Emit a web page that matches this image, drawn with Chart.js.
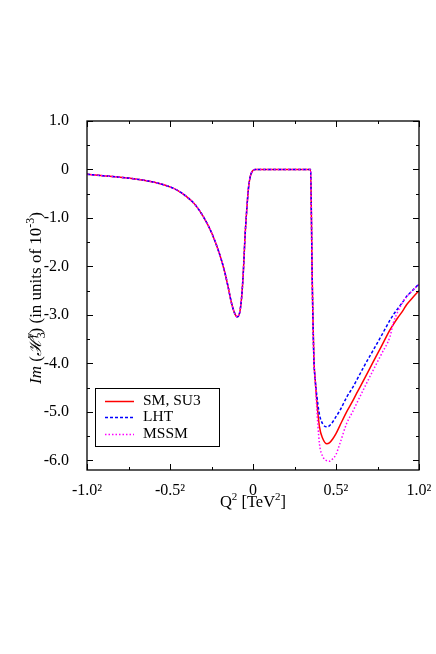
<!DOCTYPE html>
<html>
<head>
<meta charset="utf-8">
<script src="https://cdn.jsdelivr.net/npm/chart.js@4.4.1/dist/chart.umd.min.js"></script>
<style>
  html, body { margin: 0; padding: 0; background: #fff; }
  canvas { display: block; }
</style>
</head>
<body>
<canvas id="chart" width="436" height="654"></canvas>
<script>
// -------------------- DATA --------------------
// x is plotted on a signed sqrt(|Q^2|) axis, ticks read as -1.0^2 ... 1.0^2
const xShared = [-1.0, -0.9, -0.8, -0.7, -0.6, -0.5, -0.45, -0.4, -0.35, -0.3, -0.25, -0.2,
  -0.17, -0.15, -0.13, -0.11, -0.095, -0.08, -0.068, -0.058, -0.048, -0.038, -0.028,
  -0.018, -0.008, 0.005, 0.012, 0.1, 0.2, 0.3, 0.347, 0.352, 0.355, 0.36, 0.367, 0.375];
const yShared = [-0.10, -0.13, -0.16, -0.20, -0.26, -0.36, -0.44, -0.56, -0.72, -0.97, -1.30, -1.76,
  -2.12, -2.42, -2.75, -2.97, -3.04, -2.95, -2.62, -2.10, -1.38, -0.85, -0.41,
  -0.17, -0.06, -0.01, 0, 0, 0, 0, 0, -1.0, -1.86, -2.9, -3.93, -4.35];

const xSplit = [0.383, 0.40, 0.42, 0.445, 0.46, 0.48, 0.50, 0.524, 0.564, 0.60, 0.624, 0.674,
  0.724, 0.775, 0.825, 0.845, 0.87, 0.905, 0.925, 0.96, 1.0];
const ySM   = [-4.72, -5.30, -5.55, -5.66, -5.64, -5.56, -5.45, -5.28, -5.00, -4.78, -4.62, -4.30,
  -3.97, -3.64, -3.31, -3.20, -3.07, -2.90, -2.79, -2.65, -2.50];
const yLHT  = [-4.62, -5.05, -5.25, -5.31, -5.29, -5.21, -5.10, -4.97, -4.70, -4.50, -4.35, -4.03,
  -3.73, -3.42, -3.11, -3.00, -2.88, -2.72, -2.62, -2.50, -2.36];
const yMSSM = [-4.85, -5.65, -5.92, -6.01, -6.02, -5.97, -5.88, -5.65, -5.24, -5.00, -4.83, -4.48,
  -4.14, -3.80, -3.45, -3.17, -2.95, -2.72, -2.63, -2.50, -2.37];

const seriesNames = ["SM, SU3", "LHT", "MSSM"];
const seriesColors = ["#ff0000", "#0000ff", "#ff00ff"];
const seriesDash = [[], [3, 2], [1.5, 2]];

const xTicks = [-1, -0.5, 0, 0.5, 1];
const xTickLabels = ["-1.0\u00b2", "-0.5\u00b2", "0", "0.5\u00b2", "1.0\u00b2"];
const xMinor = [-0.75, -0.25, 0.25, 0.75];
const yTicks = [1, 0, -1, -2, -3, -4, -5, -6];
const yTickLabels = ["1.0", "0", "-1.0", "-2.0", "-3.0", "-4.0", "-5.0", "-6.0"];
const yMinor = [0.5, -0.5, -1.5, -2.5, -3.5, -4.5, -5.5];

// -------------------- HELPERS --------------------
const SERIF = "'Liberation Serif', 'DejaVu Serif', serif";

function points(ys) {
  const xs = xShared.concat(xSplit);
  const all = yShared.concat(ys);
  return xs.map((x, i) => ({ x: x, y: all[i] }));
}

// draw a line of text made of pieces (for super/subscripts)
function drawRich(ctx, parts, x, y, base) {
  let total = 0;
  parts.forEach(p => {
    ctx.font = (p.italic ? "italic " : "") + (p.size || base) + "px " + SERIF;
    p.w = ctx.measureText(p.t).width;
    if (p.adv !== false) total += p.w;
  });
  let cx = x - total / 2;
  parts.forEach(p => {
    ctx.font = (p.italic ? "italic " : "") + (p.size || base) + "px " + SERIF;
    ctx.fillText(p.t, cx, y + (p.dy || 0));
    if (p.adv !== false) cx += p.w;
  });
}

// -------------------- FRAME, TICKS, LEGEND, TITLES --------------------
const decor = {
  id: "decor",
  afterDraw(chart) {
    const ctx = chart.ctx;
    const a = chart.chartArea;
    const xs = chart.scales.x, ys = chart.scales.y;
    ctx.save();
    ctx.strokeStyle = "#000";
    ctx.lineWidth = 1.3;
    ctx.strokeRect(a.left, a.top, a.right - a.left, a.bottom - a.top);

    ctx.lineWidth = 1;
    ctx.beginPath();
    const tickX = (v, len) => {
      const p = Math.round(xs.getPixelForValue(v)) + 0.5;
      ctx.moveTo(p, a.bottom); ctx.lineTo(p, a.bottom - len);
      ctx.moveTo(p, a.top); ctx.lineTo(p, a.top + len);
    };
    const tickY = (v, len) => {
      const p = Math.round(ys.getPixelForValue(v)) + 0.5;
      ctx.moveTo(a.left, p); ctx.lineTo(a.left + len, p);
      ctx.moveTo(a.right, p); ctx.lineTo(a.right - len, p);
    };
    xTicks.forEach(v => tickX(v, 6));
    xMinor.forEach(v => tickX(v, 3));
    yTicks.forEach(v => tickY(v, 6));
    yMinor.forEach(v => tickY(v, 3));
    ctx.stroke();

    // legend box
    ctx.lineWidth = 1;
    ctx.strokeRect(95.5, 388.5, 124, 58);
    ctx.font = "15.5px " + SERIF;
    ctx.fillStyle = "#000";
    ctx.textBaseline = "middle";
    ctx.textAlign = "left";
    const rows = [401, 417, 434];
    seriesNames.forEach((name, i) => {
      ctx.beginPath();
      ctx.strokeStyle = seriesColors[i];
      ctx.lineWidth = 1.5;
      ctx.setLineDash(seriesDash[i]);
      ctx.moveTo(105, rows[i] + 0.5);
      ctx.lineTo(134, rows[i] + 0.5);
      ctx.stroke();
      ctx.setLineDash([]);
      ctx.fillText(name, 143, rows[i]);
    });

    // x title
    ctx.textBaseline = "alphabetic";
    drawRich(ctx, [
      { t: "Q" }, { t: "2", size: 11, dy: -7 }, { t: " [TeV" }, { t: "2", size: 11, dy: -7 }, { t: "]" }
    ], 253, 507, 16.5);

    // y title
    ctx.translate(41, 298);
    ctx.rotate(-Math.PI / 2);
    drawRich(ctx, [
      { t: "Im", italic: true }, { t: " (" }, { t: "\u210b", italic: true },
      { t: "3", size: 12, dy: 4, adv: false }, { t: "\u03b3", size: 12, dy: -7, italic: true },
      { t: ") (in units of 10" }, { t: "-3", size: 12, dy: -7 }, { t: ")" }
    ], 0, 0, 17);
    ctx.restore();
  }
};

// -------------------- CHART --------------------
const ctx = document.getElementById("chart").getContext("2d");
Chart.defaults.font.family = SERIF;
Chart.defaults.font.size = 16;
Chart.defaults.color = "#000";

const order = [2, 1, 0];
const chart = new Chart(ctx, {
  type: "line",
  data: {
    datasets: [ySM, yLHT, yMSSM].map((ys, i) => ({
      label: seriesNames[i],
      data: points(ys),
      borderColor: seriesColors[i],
      borderDash: seriesDash[i],
      borderWidth: 1.5,
      pointRadius: 0,
      fill: false,
      cubicInterpolationMode: "monotone",
      order: order[i]
    }))
  },
  options: {
    responsive: false,
    animation: false,
    layout: { padding: { left: 0, right: 17, top: 121, bottom: 144 } },
    plugins: { legend: { display: false }, tooltip: { enabled: false } },
    scales: {
      x: {
        type: "linear",
        min: -1, max: 1,
        grid: { display: false },
        border: { display: false },
        afterBuildTicks: s => { s.ticks = xTicks.map(v => ({ value: v })); },
        afterFit: s => { s.height = 40; },
        ticks: {
          padding: 3,
          maxRotation: 0,
          callback: (v) => xTickLabels[xTicks.indexOf(v)]
        }
      },
      y: {
        type: "linear",
        min: -6.2, max: 1.0,
        grid: { display: false },
        border: { display: false },
        afterBuildTicks: s => { s.ticks = yTicks.map(v => ({ value: v })); },
        afterFit: s => { s.width = 87; },
        ticks: {
          padding: 10,
          callback: (v) => yTickLabels[yTicks.indexOf(v)]
        }
      }
    }
  },
  plugins: [decor]
});
</script>
</body>
</html>
